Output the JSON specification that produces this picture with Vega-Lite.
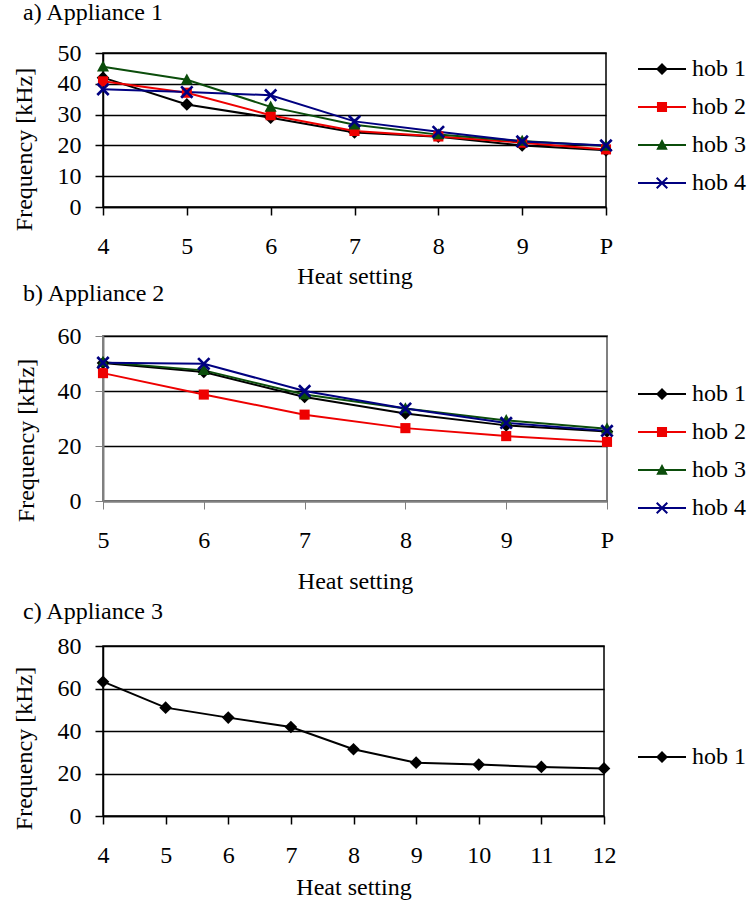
{
  "$schema": "https://vega.github.io/schema/vega-lite/v6.json",
  "padding": {"left": 11, "top": 0, "right": 2, "bottom": 12},
  "config": {
    "font": "Liberation Serif",
    "view": {"stroke": "black", "strokeWidth": 1.5},
    "axis": {
      "labelFont": "Liberation Serif", "labelFontSize": 24, "labelColor": "black",
      "titleFont": "Liberation Serif", "titleFontSize": 24, "titleFontWeight": "normal", "titleColor": "black",
      "domainColor": "black", "domainWidth": 1.5, "tickColor": "black", "tickWidth": 1.5, "tickSize": 8,
      "gridColor": "black", "gridWidth": 1.5, "gridOpacity": 1
    },
    "axisX": {"grid": false, "labelAngle": 0, "labelPadding": 19, "titleBaseline": "alphabetic"},
    "axisY": {"labelPadding": 14, "titleBaseline": "alphabetic", "titleAlign": "center", "titleAngle": 270},
    "legend": {
      "orient": "none", "title": null, "padding": 0, "offset": 0,
      "labelFont": "Liberation Serif", "labelFontSize": 24, "labelColor": "black",
      "labelOffset": 18, "rowPadding": 14, "symbolSize": 576, "symbolStrokeWidth": 0, "symbolOpacity": 1
    },
    "title": {"font": "Liberation Serif", "fontSize": 24, "fontWeight": "normal", "color": "black", "anchor": "start", "frame": "group", "baseline": "alphabetic"}
  },
  "datasets": {
    "appliance1": [
      {"hob": "hob 1", "setting": "4", "freq": 42.0}, {"hob": "hob 1", "setting": "5", "freq": 33.3}, {"hob": "hob 1", "setting": "6", "freq": 29.0}, {"hob": "hob 1", "setting": "7", "freq": 24.2}, {"hob": "hob 1", "setting": "8", "freq": 22.8}, {"hob": "hob 1", "setting": "9", "freq": 20.0}, {"hob": "hob 1", "setting": "P", "freq": 18.4},
      {"hob": "hob 2", "setting": "4", "freq": 40.8}, {"hob": "hob 2", "setting": "5", "freq": 37.1}, {"hob": "hob 2", "setting": "6", "freq": 29.8}, {"hob": "hob 2", "setting": "7", "freq": 24.7}, {"hob": "hob 2", "setting": "8", "freq": 22.9}, {"hob": "hob 2", "setting": "9", "freq": 20.9}, {"hob": "hob 2", "setting": "P", "freq": 18.7},
      {"hob": "hob 3", "setting": "4", "freq": 45.5}, {"hob": "hob 3", "setting": "5", "freq": 41.3}, {"hob": "hob 3", "setting": "6", "freq": 32.5}, {"hob": "hob 3", "setting": "7", "freq": 26.7}, {"hob": "hob 3", "setting": "8", "freq": 23.5}, {"hob": "hob 3", "setting": "9", "freq": 21.4}, {"hob": "hob 3", "setting": "P", "freq": 19.8},
      {"hob": "hob 4", "setting": "4", "freq": 38.2}, {"hob": "hob 4", "setting": "5", "freq": 37.3}, {"hob": "hob 4", "setting": "6", "freq": 36.3}, {"hob": "hob 4", "setting": "7", "freq": 27.8}, {"hob": "hob 4", "setting": "8", "freq": 24.4}, {"hob": "hob 4", "setting": "9", "freq": 21.3}, {"hob": "hob 4", "setting": "P", "freq": 20.0}
    ],
    "appliance2": [
      {"hob": "hob 1", "setting": "5", "freq": 50.2}, {"hob": "hob 1", "setting": "6", "freq": 46.9}, {"hob": "hob 1", "setting": "7", "freq": 37.8}, {"hob": "hob 1", "setting": "8", "freq": 31.8}, {"hob": "hob 1", "setting": "9", "freq": 27.5}, {"hob": "hob 1", "setting": "P", "freq": 25.3},
      {"hob": "hob 2", "setting": "5", "freq": 46.5}, {"hob": "hob 2", "setting": "6", "freq": 38.7}, {"hob": "hob 2", "setting": "7", "freq": 31.4}, {"hob": "hob 2", "setting": "8", "freq": 26.5}, {"hob": "hob 2", "setting": "9", "freq": 23.6}, {"hob": "hob 2", "setting": "P", "freq": 21.5},
      {"hob": "hob 3", "setting": "5", "freq": 50.5}, {"hob": "hob 3", "setting": "6", "freq": 47.5}, {"hob": "hob 3", "setting": "7", "freq": 38.7}, {"hob": "hob 3", "setting": "8", "freq": 33.6}, {"hob": "hob 3", "setting": "9", "freq": 29.3}, {"hob": "hob 3", "setting": "P", "freq": 26.3},
      {"hob": "hob 4", "setting": "5", "freq": 50.3}, {"hob": "hob 4", "setting": "6", "freq": 49.9}, {"hob": "hob 4", "setting": "7", "freq": 40.0}, {"hob": "hob 4", "setting": "8", "freq": 33.6}, {"hob": "hob 4", "setting": "9", "freq": 28.4}, {"hob": "hob 4", "setting": "P", "freq": 25.5}
    ],
    "appliance3": [
      {"hob": "hob 1", "setting": "4", "freq": 63.2}, {"hob": "hob 1", "setting": "5", "freq": 51.0}, {"hob": "hob 1", "setting": "6", "freq": 46.3}, {"hob": "hob 1", "setting": "7", "freq": 41.9}, {"hob": "hob 1", "setting": "8", "freq": 31.4}, {"hob": "hob 1", "setting": "9", "freq": 25.1}, {"hob": "hob 1", "setting": "10", "freq": 24.2}, {"hob": "hob 1", "setting": "11", "freq": 23.1}, {"hob": "hob 1", "setting": "12", "freq": 22.4}
    ]
  },
  "bounds": "flush",
  "spacing": 129,
  "resolve": {"scale": {"color": "independent", "shape": "independent"}, "legend": {"color": "independent", "shape": "independent"}},
  "vconcat": [
    {
      "width": 503, "height": 154,
      "title": {"text": "a) Appliance 1", "dx": -80, "offset": 16},
      "data": {"name": "appliance1"},
      "encoding": {
        "x": {"field": "setting", "type": "ordinal", "sort": ["4", "5", "6", "7", "8", "9", "P"], "scale": {"type": "point", "padding": 0}, "axis": {"title": "Heat setting", "titleY": 76}},
        "y": {"field": "freq", "type": "quantitative", "scale": {"domain": [0, 50], "nice": false}, "axis": {"title": "Frequency [kHz]", "values": [0, 10, 20, 30, 40, 50], "titleX": -72, "titleY": 96}},
        "color": {
          "field": "hob", "type": "nominal",
          "scale": {"domain": ["hob 1", "hob 2", "hob 3", "hob 4"], "range": ["#000000", "#ee0000", "#0b4d0b", "#000080"]},
          "legend": {"legendX": 547, "legendY": 4}
        }
      },
      "layer": [
        {"mark": {"type": "line", "strokeWidth": 2}},
        {
          "mark": {"type": "point", "filled": true, "size": 0},
          "encoding": {"shape": {"field": "hob", "type": "nominal", "legend": null,
            "scale": {"domain": ["hob 1", "hob 2", "hob 3", "hob 4"], "range": [
              "M-2,-0.08H2V0.08H-2ZM0,-0.5L0.5,0L0,0.5L-0.5,0Z",
              "M-2,-0.08H2V0.08H-2ZM-0.42,-0.42H0.42V0.42H-0.42Z",
              "M-2,-0.08H2V0.08H-2ZM0,-0.5L0.48,0.4H-0.48Z",
              "M-2,-0.08H2V0.08H-2ZM0,-0.12L0.38,-0.5L0.5,-0.38L0.12,0L0.5,0.38L0.38,0.5L0,0.12L-0.38,0.5L-0.5,0.38L-0.12,0L-0.5,-0.38L-0.38,-0.5Z"]}}}
        },
        {"transform": [{"filter": "datum.hob === 'hob 1'"}], "mark": {"type": "point", "filled": true, "size": 160, "opacity": 1, "shape": "M0,-1L1,0L0,1L-1,0Z"}},
        {"transform": [{"filter": "datum.hob === 'hob 2'"}], "mark": {"type": "point", "filled": true, "size": 160, "opacity": 1, "shape": "M-0.8,-0.8H0.8V0.8H-0.8Z"}},
        {"transform": [{"filter": "datum.hob === 'hob 3'"}], "mark": {"type": "point", "filled": true, "size": 160, "opacity": 1, "shape": "M0,-1L0.95,0.75H-0.95Z"}},
        {"transform": [{"filter": "datum.hob === 'hob 4'"}], "mark": {"type": "point", "filled": true, "size": 160, "opacity": 1, "shape": "M0,-0.3L0.75,-1.05L1.05,-0.75L0.3,0L1.05,0.75L0.75,1.05L0,0.3L-0.75,1.05L-1.05,0.75L-0.3,0L-1.05,-0.75L-0.75,-1.05Z"}}
      ]
    },
    {
      "bounds": "flush",
      "spacing": 145,
      "resolve": {"scale": {"color": "independent", "shape": "independent"}, "legend": {"color": "independent", "shape": "independent"}},
      "vconcat": [
        {
          "width": 504, "height": 165,
          "title": {"text": "b) Appliance 2", "dx": -80, "offset": 18},
          "view": {"stroke": "#808080", "strokeWidth": 2},
          "data": {"name": "appliance2"},
          "encoding": {
            "x": {"field": "setting", "type": "ordinal", "sort": ["5", "6", "7", "8", "9", "P"], "scale": {"type": "point", "padding": 0}, "axis": {"title": "Heat setting", "titleY": 87, "domainColor": "#808080", "domainWidth": 2, "tickColor": "#808080", "tickWidth": 1}},
            "y": {"field": "freq", "type": "quantitative", "scale": {"domain": [0, 60], "nice": false}, "axis": {"title": "Frequency [kHz]", "values": [0, 20, 40, 60], "titleX": -70, "titleY": 104, "domainColor": "#808080", "domainWidth": 2, "tickColor": "#808080", "tickWidth": 1}},
            "color": {
              "field": "hob", "type": "nominal",
              "scale": {"domain": ["hob 1", "hob 2", "hob 3", "hob 4"], "range": ["#000000", "#ee0000", "#0b4d0b", "#000080"]},
              "legend": {"legendX": 547, "legendY": 46}
            }
          },
          "layer": [
            {"mark": {"type": "line", "strokeWidth": 2}},
            {
              "mark": {"type": "point", "filled": true, "size": 0},
              "encoding": {"shape": {"field": "hob", "type": "nominal", "legend": null,
                "scale": {"domain": ["hob 1", "hob 2", "hob 3", "hob 4"], "range": [
                  "M-2,-0.08H2V0.08H-2ZM0,-0.5L0.5,0L0,0.5L-0.5,0Z",
                  "M-2,-0.08H2V0.08H-2ZM-0.42,-0.42H0.42V0.42H-0.42Z",
                  "M-2,-0.08H2V0.08H-2ZM0,-0.5L0.48,0.4H-0.48Z",
                  "M-2,-0.08H2V0.08H-2ZM0,-0.12L0.38,-0.5L0.5,-0.38L0.12,0L0.5,0.38L0.38,0.5L0,0.12L-0.38,0.5L-0.5,0.38L-0.12,0L-0.5,-0.38L-0.38,-0.5Z"]}}}
            },
            {"transform": [{"filter": "datum.hob === 'hob 1'"}], "mark": {"type": "point", "filled": true, "size": 160, "opacity": 1, "shape": "M0,-1L1,0L0,1L-1,0Z"}},
            {"transform": [{"filter": "datum.hob === 'hob 2'"}], "mark": {"type": "point", "filled": true, "size": 160, "opacity": 1, "shape": "M-0.8,-0.8H0.8V0.8H-0.8Z"}},
            {"transform": [{"filter": "datum.hob === 'hob 3'"}], "mark": {"type": "point", "filled": true, "size": 160, "opacity": 1, "shape": "M0,-1L0.95,0.75H-0.95Z"}},
            {"transform": [{"filter": "datum.hob === 'hob 4'"}], "mark": {"type": "point", "filled": true, "size": 160, "opacity": 1, "shape": "M0,-0.3L0.75,-1.05L1.05,-0.75L0.3,0L1.05,0.75L0.75,1.05L0,0.3L-0.75,1.05L-1.05,0.75L-0.3,0L-1.05,-0.75L-0.75,-1.05Z"}}
          ]
        },
        {
          "width": 501, "height": 170,
          "title": {"text": "c) Appliance 3", "dx": -80, "offset": 10},
          "data": {"name": "appliance3"},
          "encoding": {
            "x": {"field": "setting", "type": "ordinal", "sort": ["4", "5", "6", "7", "8", "9", "10", "11", "12"], "scale": {"type": "point", "padding": 0}, "axis": {"title": "Heat setting", "titleY": 78}},
            "y": {"field": "freq", "type": "quantitative", "scale": {"domain": [0, 80], "nice": false}, "axis": {"title": "Frequency [kHz]", "values": [0, 20, 40, 60, 80], "titleX": -72, "titleY": 102}},
            "color": {
              "field": "hob", "type": "nominal",
              "scale": {"domain": ["hob 1"], "range": ["#000000"]},
              "legend": {"legendX": 547, "legendY": 99}
            }
          },
          "layer": [
            {"mark": {"type": "line", "strokeWidth": 2}},
            {
              "mark": {"type": "point", "filled": true, "size": 0},
              "encoding": {"shape": {"field": "hob", "type": "nominal", "legend": null,
                "scale": {"domain": ["hob 1"], "range": ["M-2,-0.08H2V0.08H-2ZM0,-0.5L0.5,0L0,0.5L-0.5,0Z"]}}}
            },
            {"mark": {"type": "point", "filled": true, "size": 160, "opacity": 1, "shape": "M0,-1L1,0L0,1L-1,0Z"}}
          ]
        }
      ]
    }
  ]
}
